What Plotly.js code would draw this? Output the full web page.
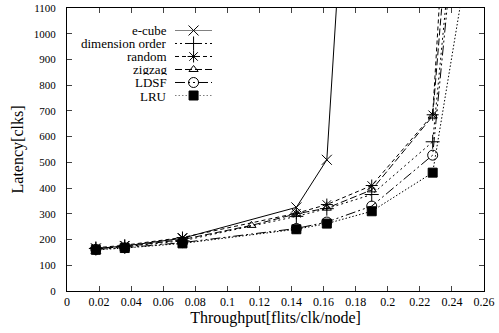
<!DOCTYPE html>
<html><head><meta charset="utf-8">
<script src="https://cdn.plot.ly/plotly-3.0.1.min.js"></script>
<style>html,body{margin:0;padding:0;background:#fff}#c{width:499px;height:333px}</style>
</head><body><div id="c"></div>
<script>
var seriesNames = ["e-cube","dimension order","random","zigzag","LDSF","LRU"];
var ecubeX = [0.018,0.036,0.072,0.143,0.162,0.172];
var ecubeY = [165,175,205,325,510,1500];
var dimX = [0.018,0.036,0.072,0.143,0.162,0.19,0.228,0.24];
var dimY = [165,172,195,290,320,375,580,1360];
var randX = [0.018,0.036,0.072,0.143,0.162,0.19,0.228,0.235];
var randY = [168,178,208,302,336,410,685,1410];
var zigX = [0.018,0.036,0.072,0.115,0.143,0.162,0.19,0.228,0.238];
var zigY = [165,172,200,255,300,322,393,680,1430];
var ldsfX = [0.018,0.036,0.072,0.143,0.162,0.19,0.228,0.242];
var ldsfY = [162,168,188,243,268,330,528,1420];
var lruX = [0.018,0.036,0.072,0.143,0.162,0.19,0.228,0.25];
var lruY = [160,167,185,240,262,310,460,1290];

var FONT = 'Liberation Serif';
var xs=[ecubeX,dimX,randX,zigX,ldsfX,lruX];
var ys=[ecubeY,dimY,randY,zigY,ldsfY,lruY];
var dashes=["solid","2px,3px","4px,3px","7px,3px","10px,3px,2px,3px,2px,3px","1.5px,2px"];
var symbols=["x-thin-open","cross-thin-open","asterisk-open","triangle-up-open","circle-open","square"];
var sizes=[10,10,10,8,10,9];
var traces=[];
for(var i=0;i<6;i++){
  traces.push({x:xs[i],y:ys[i],type:'scatter',mode:'lines+markers',name:seriesNames[i],showlegend:false,
    line:{color:'#000',width:1,dash:dashes[i]},
    marker:{symbol:symbols[i],size:sizes[i],color:'#000',line:{color:'#000',width:1}}});
}
var ann=[];
for(var i=0;i<6;i++){
  traces.push({x:[0,2],y:[i,i],xaxis:'x2',yaxis:'y2',mode:'lines',showlegend:false,hoverinfo:'skip',cliponaxis:false,
    line:{color:'#000',width:1,dash:dashes[i]}});
  traces.push({x:[1],y:[i],xaxis:'x2',yaxis:'y2',mode:'markers',showlegend:false,hoverinfo:'skip',cliponaxis:false,
    marker:{symbol:symbols[i],size:sizes[i],color:'#000',line:{color:'#000',width:1}}});
  ann.push({text:seriesNames[i],xref:'paper',yref:'y2',x:0.243,y:i,xanchor:'right',yanchor:'middle',showarrow:false,
    height:12,borderpad:0,font:{family:FONT,size:13,color:'#000'}});
}
var layout={
  width:499,height:333,margin:{l:67,r:15,t:8,b:42},
  paper_bgcolor:'#fff',plot_bgcolor:'#fff',
  font:{family:FONT,size:11,color:'#000'},
  xaxis:{range:[0,0.26],dtick:0.02,tick0:0,ticks:'inside',ticklen:5,mirror:'ticks',showline:true,linecolor:'#000',linewidth:1,
    showgrid:false,zeroline:false,tickfont:{family:FONT,size:12,color:'#000'},
    title:{text:'Throughput[flits/clk/node]',font:{family:FONT,size:16,color:'#000'},standoff:2}},
  yaxis:{range:[0,1100],dtick:100,ticks:'inside',ticklen:5,mirror:'ticks',showline:true,linecolor:'#000',linewidth:1,
    showgrid:false,zeroline:false,tickfont:{family:FONT,size:11,color:'#000'},ticklabelstandoff:8,
    title:{text:'Latency[clks]',font:{family:FONT,size:16,color:'#000'},standoff:6}},
  xaxis2:{domain:[0.259,0.348],range:[0,2],visible:false,anchor:'y2'},
  yaxis2:{domain:[0.6908,0.9205],range:[5,0],visible:false,anchor:'x2'},
  annotations:ann,
  showlegend:false
};
Plotly.newPlot('c',traces,layout,{staticPlot:true});
</script></body></html>
